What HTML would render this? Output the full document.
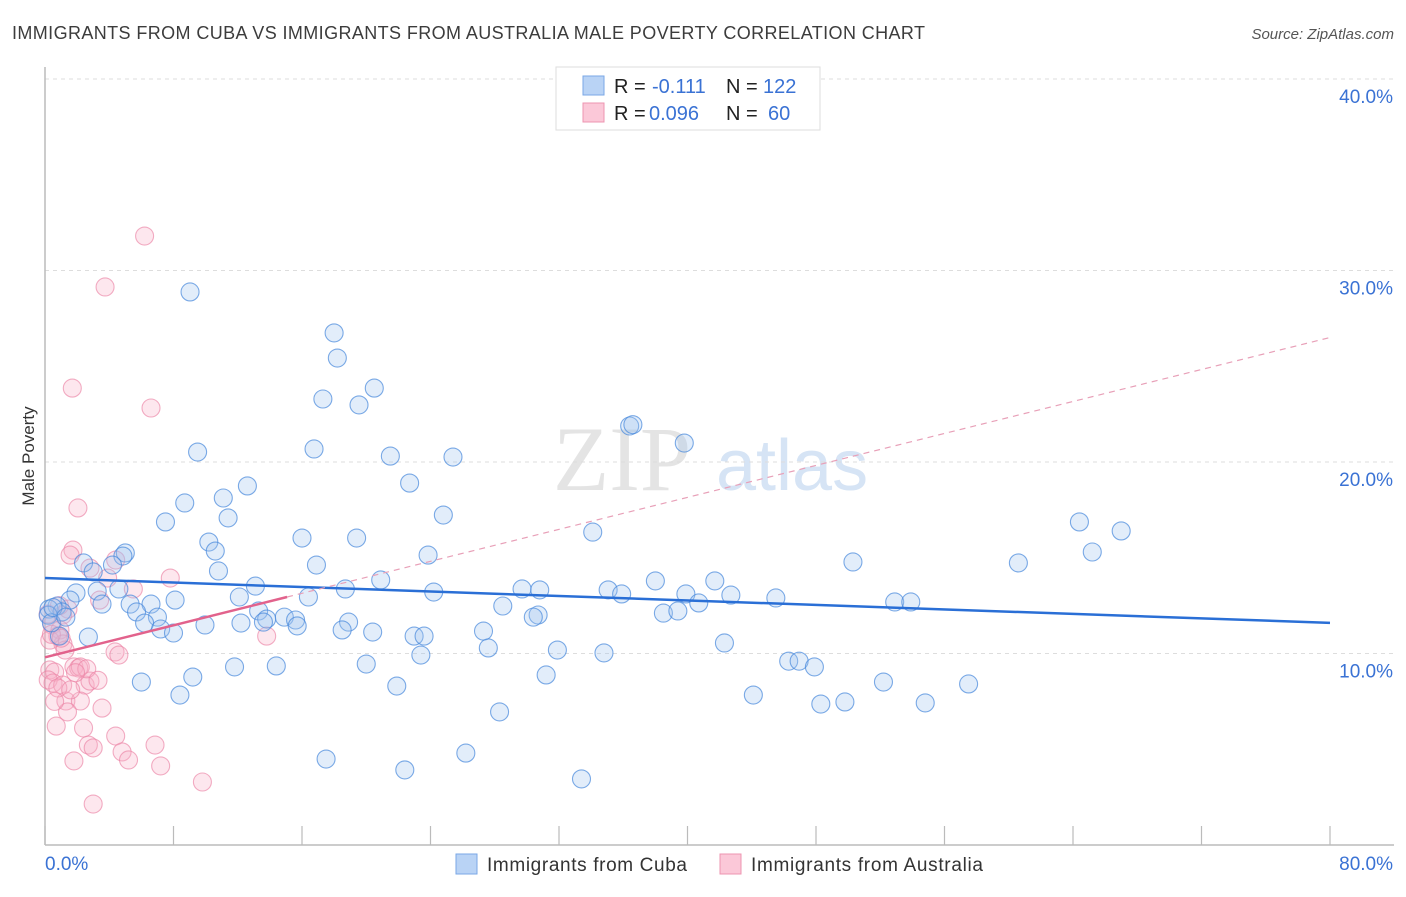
<!DOCTYPE html>
<html><head><meta charset="utf-8"><style>
body{margin:0;background:#fff;font-family:"Liberation Sans",sans-serif;}
svg text{font-family:"Liberation Sans",sans-serif;}
</style></head><body>
<svg id="chart" width="1406" height="892" xmlns="http://www.w3.org/2000/svg">
<text x="12" y="39" font-size="18" fill="#3c3c3c" textLength="913" lengthAdjust="spacing">IMMIGRANTS FROM CUBA VS IMMIGRANTS FROM AUSTRALIA MALE POVERTY CORRELATION CHART</text>
<text x="1394" y="39" font-size="15" fill="#555" text-anchor="end" font-style="italic">Source: ZipAtlas.com</text>
<text x="553" y="490" font-size="92" fill="#e4e4e4" font-family="Liberation Serif" style="font-family:'Liberation Serif',serif">ZIP</text>
<text x="716" y="490" font-size="72" fill="#d6e4f5">atlas</text>
<text transform="translate(34,456) rotate(-90)" font-size="17" fill="#333" text-anchor="middle">Male Poverty</text>
<g id="grid"></g><g id="axes"></g><g id="pink"></g><g id="blue"></g><g id="lines"></g>
<g>
<rect x="556" y="67" width="264" height="63" fill="#fff" stroke="#ddd"/>
<rect x="583" y="76" width="21" height="19" fill="#b9d3f5" stroke="#7aa7e6"/>
<rect x="583" y="103" width="21" height="19" fill="#fbc8d8" stroke="#ee94b0"/>
<text x="614" y="93" font-size="20" fill="#222">R = </text><text x="652" y="93" font-size="20" fill="#3a72d4">-0.111</text>
<text x="726" y="93" font-size="20" fill="#222">N = </text><text x="763" y="93" font-size="20" fill="#3a72d4">122</text>
<text x="614" y="120" font-size="20" fill="#222">R = </text><text x="649" y="120" font-size="20" fill="#3a72d4">0.096</text>
<text x="726" y="120" font-size="20" fill="#222">N = </text><text x="768" y="120" font-size="20" fill="#3a72d4">60</text>
</g>
<g>
<rect x="456" y="854" width="21" height="20" fill="#b9d3f5" stroke="#7aa7e6"/>
<text x="487" y="871" font-size="19" fill="#333" textLength="200" lengthAdjust="spacing">Immigrants from Cuba</text>
<rect x="720" y="854" width="21" height="20" fill="#fbc8d8" stroke="#ee94b0"/>
<text x="751" y="871" font-size="19" fill="#333" textLength="232" lengthAdjust="spacing">Immigrants from Australia</text>
</g>
</svg>
<script>
const yTicks=[10,20,30,40];
const yTickLabels=["10.0%","20.0%","30.0%","40.0%"];
const xTickValues=[0,8,16,24,32,40,48,56,64,72,80];
const xEndLabels=["0.0%","80.0%"];
const cubaX=[9.03,18.0,18.2,20.5,17.3,19.55,36.4,36.6,39.8,9.5,16.75,21.5,25.4,22.7,12.6,8.7,11.1,24.8,11.4,7.5,64.4,67.0,34.1,16.0,19.4,10.2,10.6,23.85,5.0,4.85,65.2,50.3,60.6,16.9,2.4,4.2,3.0,10.8,20.9,13.1,38.0,41.7,18.7,29.7,30.8,35.06,35.9,39.9,42.7,45.5,4.6,3.25,1.93,24.2,16.4,12.1,8.1,6.6,5.3,3.55,1.56,0.75,28.5,40.7,52.9,53.9,0.25,1.06,5.7,13.3,14.9,13.8,15.6,7.0,13.6,18.9,30.7,30.4,38.5,39.4,6.2,9.96,12.2,15.7,7.2,8.0,20.4,18.5,27.3,0.9,2.7,22.98,23.6,27.6,31.9,34.8,23.4,42.3,46.3,46.95,47.9,11.8,14.4,20.0,31.2,9.2,6.0,21.9,52.2,57.5,8.4,44.1,48.3,49.8,54.8,28.3,17.5,26.2,22.4,33.4,0.2,0.4,0.5,1.3];
const cubaY=[28.88,26.74,25.43,23.86,23.29,22.98,21.88,21.95,20.99,20.52,20.68,20.31,20.26,18.9,18.75,17.86,18.12,17.23,17.08,16.87,16.87,16.4,16.34,16.03,16.03,15.82,15.35,15.14,15.25,15.09,15.3,14.78,14.73,14.62,14.73,14.62,14.26,14.31,13.84,13.52,13.79,13.79,13.37,13.37,13.32,13.32,13.11,13.11,13.05,12.9,13.37,13.26,13.16,13.21,12.95,12.95,12.79,12.58,12.58,12.58,12.79,12.48,12.48,12.64,12.69,12.69,12.32,12.17,12.17,12.22,11.9,11.8,11.75,11.9,11.64,11.64,12.01,11.9,12.11,12.22,11.59,11.49,11.59,11.44,11.28,11.07,11.12,11.23,11.17,10.91,10.86,10.91,10.91,10.29,10.18,10.03,9.92,10.55,9.6,9.6,9.3,9.3,9.35,9.45,8.88,8.77,8.51,8.3,8.51,8.41,7.83,7.83,7.36,7.47,7.42,6.95,4.49,4.8,3.92,3.45,12.0,11.6,12.4,11.9];
const ausX=[6.2,3.74,1.7,6.6,2.05,1.74,1.56,4.4,2.8,3.9,7.8,5.5,3.4,1.43,1.1,0.44,0.93,0.8,13.8,1.12,1.25,4.36,4.6,0.3,0.6,1.8,2.1,2.2,0.2,0.5,1.1,2.5,2.8,1.3,2.2,3.55,1.4,0.7,2.4,2.7,4.4,3.0,4.8,5.2,6.85,1.8,7.2,9.8,3.0,0.2,0.3,0.8,1.6,0.4,2.6,1.0,0.6,3.3,1.9,0.9];
const ausY=[31.8,29.14,23.86,22.82,17.6,15.4,15.14,14.88,14.46,13.94,13.94,13.37,12.79,12.32,12.01,11.49,11.23,10.91,10.91,10.5,10.18,10.08,9.92,9.14,9.03,9.3,9.24,9.3,8.62,8.46,8.35,8.35,8.56,7.52,7.52,7.15,6.95,6.21,6.11,5.22,5.69,5.07,4.86,4.44,5.22,4.39,4.13,3.29,2.14,12.06,10.7,8.2,8.1,11.0,9.2,10.8,7.5,8.6,9.0,12.5];
const cubaTrend=[13.94,11.6];
const ausTrend=[9.8,12.95,26.5];
const ausTrendSolidEnd=15.07;

const NS="http://www.w3.org/2000/svg";
const X=v=>45+v*(1285/80);
const Y=v=>845-v*19.15;
function mk(tag,attrs,parent){const e=document.createElementNS(NS,tag);for(const k in attrs)e.setAttribute(k,attrs[k]);document.getElementById(parent).appendChild(e);return e;}
yTicks.forEach((t,i)=>{
 const g=mk('line',{x1:45,x2:1394,y1:Y(t),y2:Y(t),stroke:'#ddd','stroke-dasharray':'4,4'},'grid');
 
 
 const l=mk('text',{x:1393,y:Y(t)+24,'font-size':19,fill:'#3a72d4','text-anchor':'end'},'grid');
 l.textContent=yTickLabels[i];
 
 
});
const ax=mk('line',{x1:45,x2:1394,y1:845,y2:845,stroke:'#bbb','stroke-width':1.5},'axes');


const ay=mk('line',{x1:45,x2:45,y1:67,y2:845,stroke:'#bbb','stroke-width':1.5},'axes');


xTickValues.forEach(t=>{
 const tk=mk('line',{x1:X(t),x2:X(t),y1:826,y2:845,stroke:'#bbb','stroke-width':1.2},'axes');
 
 
});
const xl0=mk('text',{x:45,y:870,'font-size':19,fill:'#3a72d4'},'axes');xl0.textContent=xEndLabels[0];


const xl1=mk('text',{x:1393,y:870,'font-size':19,fill:'#3a72d4','text-anchor':'end'},'axes');xl1.textContent=xEndLabels[1];


ausX.forEach((v,i)=>{
 const c=mk('circle',{cx:X(v),cy:Y(ausY[i]),r:9,fill:'rgba(248,175,200,0.3)',stroke:'rgba(235,130,165,0.65)','stroke-width':1.1},'pink');
 
 
});
cubaX.forEach((v,i)=>{
 const c=mk('circle',{cx:X(v),cy:Y(cubaY[i]),r:9,fill:'rgba(160,195,240,0.3)',stroke:'rgba(70,135,220,0.7)','stroke-width':1.1},'blue');
 
 
});
const tb=mk('line',{x1:X(0),y1:Y(cubaTrend[0]),x2:X(80),y2:Y(cubaTrend[1]),stroke:'#2a6fd6','stroke-width':2.5},'lines');


const td=mk('line',{x1:X(ausTrendSolidEnd),y1:Y(ausTrend[1]),x2:X(80),y2:Y(ausTrend[2]),stroke:'#e8a0b8','stroke-width':1.2,'stroke-dasharray':'6,5'},'lines');


const tp=mk('line',{x1:X(0),y1:Y(ausTrend[0]),x2:X(ausTrendSolidEnd),y2:Y(ausTrend[1]),stroke:'#e2628c','stroke-width':2.5},'lines');


</script>
</body></html>
